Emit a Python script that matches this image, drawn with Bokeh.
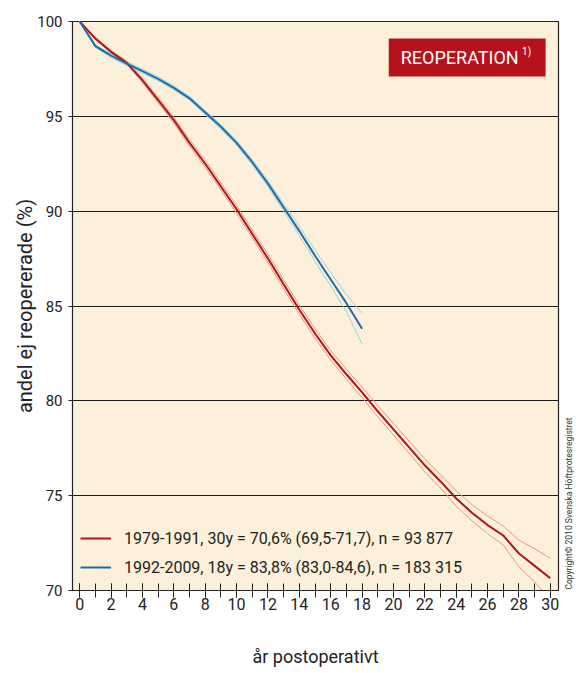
from math import pi
from bokeh.plotting import figure
from bokeh.models import Range1d, FixedTicker, Label, Legend, LegendItem, LinearAxis
from bokeh.embed import file_html
from bokeh.resources import INLINE

FONT = "Roboto"

# ---- data ----
years_a = list(range(0, 31))
surv_a = [100, 99.1, 98.4, 97.82, 96.9, 95.85, 94.8, 93.6, 92.5, 91.3, 90.1,
          88.8, 87.5, 86.15, 84.8, 83.55, 82.4, 81.4, 80.45, 79.45, 78.5,
          77.55, 76.6, 75.75, 74.85, 74.1, 73.45, 72.9, 71.95, 71.3, 70.65]
upper_a = [100, 99.15, 98.47, 97.91, 97.01, 95.98, 94.95, 93.77, 92.68, 91.49, 90.3,
           89.01, 87.72, 86.38, 85.04, 83.8, 82.65, 81.66, 80.72, 79.74, 78.8,
           77.87, 76.95, 76.1, 75.25, 74.53, 73.92, 73.4, 72.65, 72.2, 71.7]
lower_a = [100, 99.05, 98.33, 97.73, 96.79, 95.72, 94.65, 93.43, 92.32, 91.11, 89.9,
           88.59, 87.28, 85.92, 84.56, 83.3, 82.15, 81.14, 80.18, 79.16, 78.2,
           77.23, 76.25, 75.4, 74.45, 73.67, 73.0, 72.4, 71.25, 70.45, 69.5]

years_b = list(range(0, 19))
surv_b = [100, 98.7, 98.2, 97.78, 97.38, 96.98, 96.5, 95.95, 95.2, 94.45, 93.6,
          92.58, 91.45, 90.2, 88.95, 87.65, 86.4, 85.15, 83.8]
upper_b = [100, 98.76, 98.3, 97.88, 97.48, 97.08, 96.6, 96.05, 95.3, 94.57, 93.72,
           92.72, 91.61, 90.4, 89.2, 87.95, 86.75, 85.6, 84.6]
lower_b = [100, 98.64, 98.1, 97.68, 97.28, 96.88, 96.4, 95.85, 95.1, 94.33, 93.48,
           92.44, 91.29, 90.0, 88.7, 87.35, 86.05, 84.7, 83.0]

label_a = "1979-1991, 30y = 70,6% (69,5-71,7), n = 93 877"
label_b = "1992-2009, 18y = 83,8% (83,0-84,6), n = 183 315"
copyright_text = "Copyright© 2010 Svenska Höftprotesregistret"

x_ticks = list(range(0, 31, 2))
x_minor = list(range(0, 31))
y_ticks = [70, 75, 80, 85, 90, 95, 100]

RED = "#B5121B"
RED_CI = "#E8957F"
BLUE = "#1D6BAE"
BLUE_CI = "#92D4DA"
BG = "#FDF0DA"
INK = "#222222"

p = figure(width=582, height=673, x_range=Range1d(-0.46, 30.52), y_range=Range1d(70, 100),
           output_backend="svg", toolbar_location=None,
           min_border_left=72, min_border_right=23, min_border_top=21, min_border_bottom=83)
p.background_fill_color = BG
p.border_fill_color = "white"
p.outline_line_color = INK
p.outline_line_width = 1.2

# grid
p.xgrid.visible = False
p.ygrid.ticker = FixedTicker(ticks=[75, 80, 85, 90, 95])
p.ygrid.grid_line_color = "#1a1a1a"
p.ygrid.grid_line_width = 1.2

# x axis
p.xaxis.ticker = FixedTicker(ticks=x_ticks, minor_ticks=x_minor)
p.xaxis.axis_line_color = INK
p.xaxis.major_tick_line_color = INK
p.xaxis.minor_tick_line_color = INK
p.xaxis.major_tick_in = 7
p.xaxis.major_tick_out = 7
p.xaxis.minor_tick_in = 7
p.xaxis.minor_tick_out = 7
p.xaxis.major_label_standoff = 0
p.xaxis.major_label_text_font = FONT
p.xaxis.major_label_text_font_size = "16px"
p.xaxis.major_label_text_color = INK
p.xaxis.axis_label = "år postoperativt"
p.xaxis.axis_label_text_font = FONT
p.xaxis.axis_label_text_font_size = "18px"
p.xaxis.axis_label_text_font_style = "normal"
p.xaxis.axis_label_text_color = INK
p.xaxis.axis_label_standoff = 33

# y axis
p.yaxis.ticker = FixedTicker(ticks=y_ticks)
p.yaxis.axis_line_color = INK
p.yaxis.major_tick_line_color = INK
p.yaxis.minor_tick_line_color = None
p.yaxis.major_tick_in = 0
p.yaxis.major_tick_out = 4
p.yaxis.major_label_standoff = 6
p.yaxis.major_label_text_font = FONT
p.yaxis.major_label_text_font_size = "15px"
p.yaxis.major_label_text_color = INK
p.yaxis.axis_label = "andel ej reopererade (%)"
p.yaxis.axis_label_text_font = FONT
p.yaxis.axis_label_text_font_size = "20px"
p.yaxis.axis_label_text_font_style = "normal"
p.yaxis.axis_label_text_color = INK
p.yaxis.axis_label_standoff = -3

# copyright on the right side, reading bottom to top
COPY_Y = 70.05
cax = LinearAxis(ticker=FixedTicker(ticks=[COPY_Y]),
                 major_label_overrides={COPY_Y: copyright_text},
                 major_label_orientation=pi / 2,
                 axis_line_color=None, major_tick_line_color=None,
                 minor_tick_line_color=None, major_tick_in=0, major_tick_out=0,
                 major_label_standoff=11,
                 major_label_text_font=FONT, major_label_text_font_size="8.5px",
                 major_label_text_color="#333333")
p.add_layout(cax, "right")

# series
p.line(years_a, upper_a, line_color=RED_CI, line_width=1)
p.line(years_a, lower_a, line_color=RED_CI, line_width=1)
p.line(years_b, upper_b, line_color=BLUE_CI, line_width=1)
p.line(years_b, lower_b, line_color=BLUE_CI, line_width=1)
ra = p.line(years_a, surv_a, line_color=RED, line_width=2)
rb = p.line(years_b, surv_b, line_color=BLUE, line_width=2)

legend = Legend(items=[LegendItem(label=label_a, renderers=[ra]),
                       LegendItem(label=label_b, renderers=[rb])],
                location=(8, 13), padding=0, margin=0, spacing=9,
                glyph_width=31, glyph_height=20, label_height=20, label_standoff=13,
                background_fill_alpha=0, border_line_color=None,
                label_text_font=FONT, label_text_font_size="16px",
                label_text_color=INK)
p.add_layout(legend, "center")

# title box
title = Label(x=19.7, y=98.1, text="REOPERATION", text_align="left", text_baseline="middle",
              text_font=FONT, text_font_size="18px", text_color="white",
              background_fill_color=RED, padding=dict(left=12, right=27, top=8, bottom=9))
p.add_layout(title)
sup = Label(x=28.2, y=98.4, text="1)", text_align="left", text_baseline="middle",
            text_font=FONT, text_font_size="10px", text_color="white")
p.add_layout(sup)

open("out.html", "w").write(file_html(p, INLINE))
